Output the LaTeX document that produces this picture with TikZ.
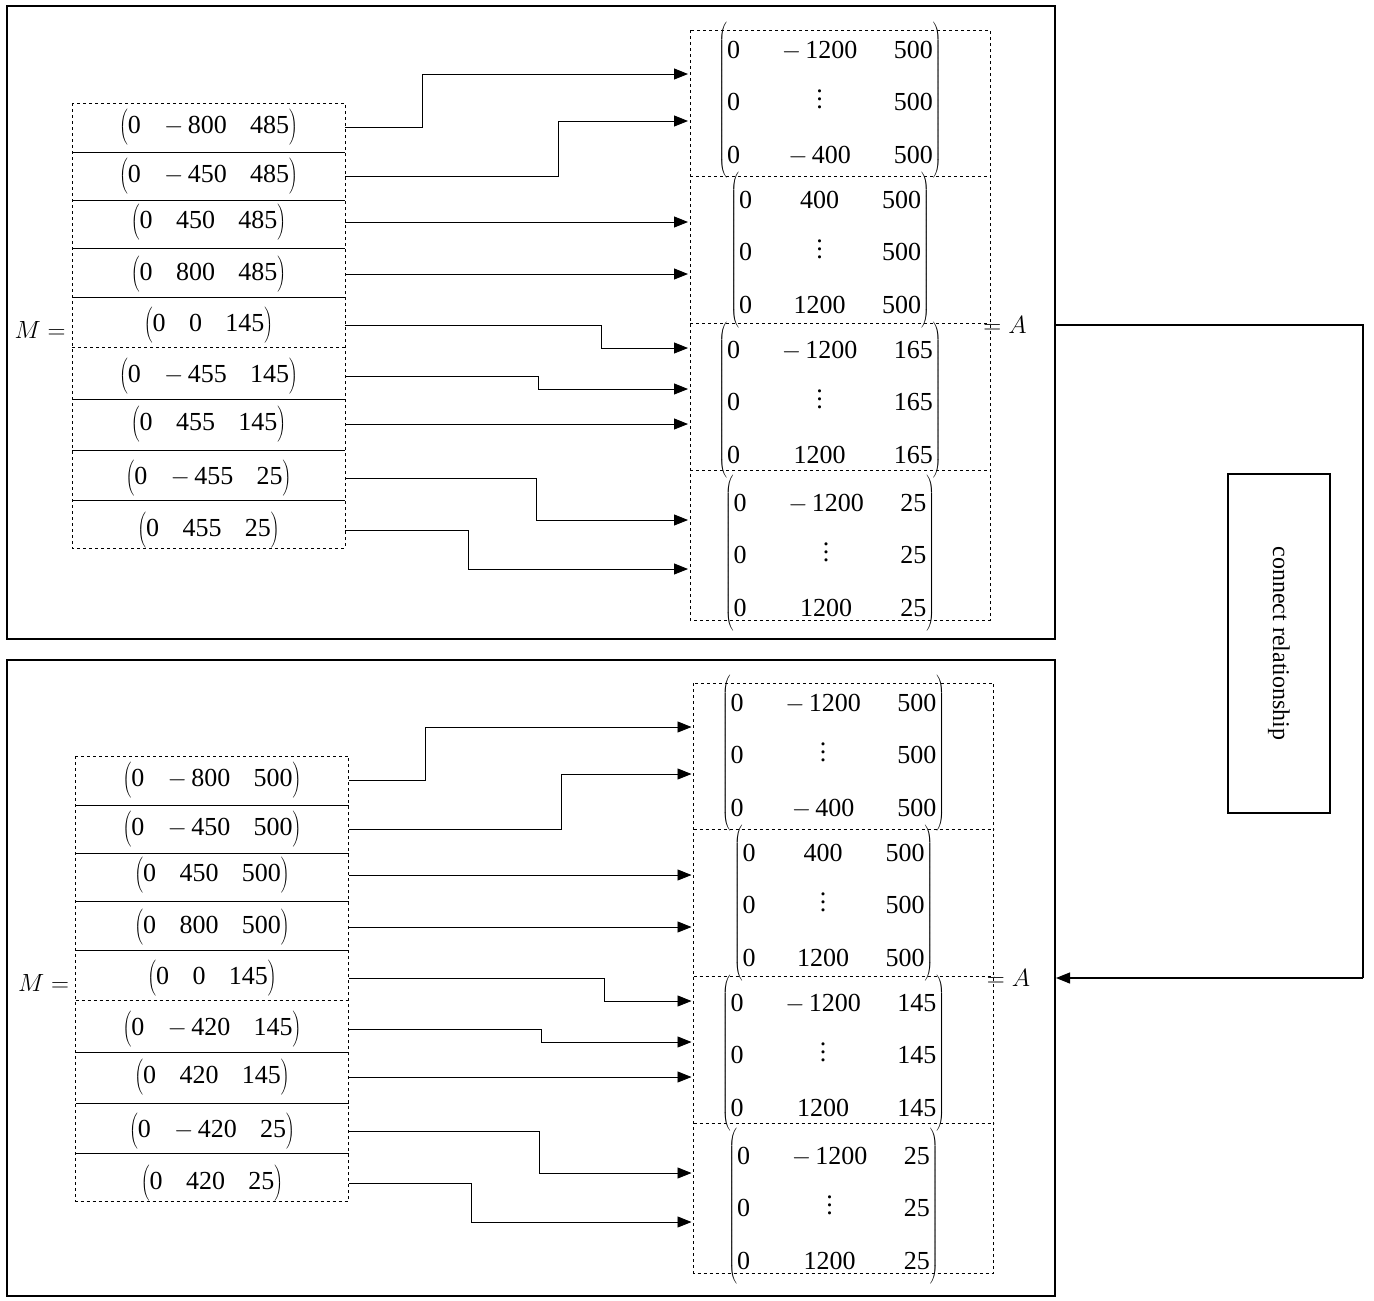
\documentclass[tikz,border=0pt]{standalone}
\usepackage{fontspec}
\setmainfont{Liberation Serif}
\usetikzlibrary{arrows.meta}
\newcommand\vd{\vbox{\baselineskip8pt\lineskiplimit0pt\hbox{.}\hbox{.}\hbox{.}}}
\newcommand\mymat[3]{$\left(\vrule height 70pt depth 70pt width 0pt\renewcommand\arraystretch{1.75}\begin{tabular}{@{}l@{\hspace{1.6em}}c@{\hspace{1.4em}}r@{}}0&#1&#3\\0&\raisebox{2pt}{\vd}&#3\\0&#2&#3\end{tabular}\right)$}
\newcommand\rv[2]{$\left(\vrule height 24pt depth 12pt width 0pt\mbox{0\hspace{0.9em}#1\hspace{0.9em}#2}\right)$}
\newcommand\mn{$-$\,}
\tikzset{
 txt/.style={font=\fontsize{26}{30}\selectfont,inner sep=0pt},
 row/.style={txt,minimum width=273pt,minimum height=48pt},
 arr/.style={-{Triangle[length=14pt,width=11pt]},line width=0.9pt},
 dbox/.style={dashed,line width=0.8pt},
}
\newcommand\panel[1]{%
 \draw[dbox] (72,103) rectangle (345,548);
 \foreach \y in {152,200,248,297,399,450,500}{\draw[line width=0.8pt] (72,\y)--(345,\y);}
 \draw[dbox] (72,347)--(345,347);
 \node[row] (#1r1) at (208.5,127) {\rv{\mn800}{\Pa}};
 \node[row] (#1r2) at (208.5,176) {\rv{\mn450}{\Pa}};
 \node[row] (#1r3) at (208.5,222) {\rv{450}{\Pa}};
 \node[row] (#1r4) at (208.5,274) {\rv{800}{\Pa}};
 \node[row] (#1r5) at (208.5,325) {\rv{0}{145}};
 \node[row] (#1r6) at (208.5,376) {\rv{\mn\Pb}{145}};
 \node[row] (#1r7) at (208.5,424) {\rv{\Pb}{145}};
 \node[row] (#1r8) at (208.5,478) {\rv{\mn\Pb}{25}};
 \node[row] (#1r9) at (208.5,530) {\rv{\Pb}{25}};
 \node[txt] (#1M) at (40,330) {$M=$};
 \draw[dbox] (690,30) rectangle (990,620);
 \foreach \y in {176,323,470}{\draw[dbox] (690,\y)--(990,\y);}
 \node[txt] (#1m1) at (830,100) {\mymat{\mn1200}{\mn400}{\Pc}};
 \node[txt] (#1m2) at (830,250) {\mymat{400}{1200}{\Pc}};
 \node[txt] (#1m3) at (830,400) {\mymat{\mn1200}{1200}{\Pd}};
 \node[txt] (#1m4) at (830,553) {\mymat{\mn1200}{1200}{25}};
 \node[txt] (#1A) at (1005,325) {$=A$};
 \coordinate (#1t1) at (688,74); \coordinate (#1t2) at (688,121);
 \coordinate (#1t3) at (688,222); \coordinate (#1t4) at (688,274);
 \coordinate (#1t5) at (688,348); \coordinate (#1t6) at (688,389);
 \coordinate (#1t7) at (688,424); \coordinate (#1t8) at (688,520);
 \coordinate (#1t9) at (688,569);
 \draw[arr] (#1r1.east) -- ++(77,0) |- (#1t1);
 \draw[arr] (#1r2.east) -- ++(213,0) |- (#1t2);
 \draw[arr] (#1r3.east) -- (#1t3);
 \draw[arr] (#1r4.east) -- (#1t4);
 \draw[arr] (#1r5.east) -- ++(256,0) |- (#1t5);
 \draw[arr] (#1r6.east) -- ++(193,0) |- (#1t6);
 \draw[arr] (#1r7.east) -- (#1t7);
 \draw[arr] (#1r8.east) -- ++(191,0) |- (#1t8);
 \draw[arr] (#1r9.east) -- ++(123,0) |- (#1t9);
}
\begin{document}
\begin{tikzpicture}[x=1pt,y=-1pt]
\useasboundingbox (0,0) rectangle (1374,1301);
\draw[line width=1.2pt] (7,6) rectangle (1055,639);
\draw[line width=1.2pt] (7,660) rectangle (1055,1296);
\def\Pa{485}\def\Pb{455}\def\Pc{500}\def\Pd{165}
\panel{a}
\begin{scope}[shift={(3.5,653)}]
\def\Pa{500}\def\Pb{420}\def\Pc{500}\def\Pd{145}
\panel{b}
\end{scope}
\node[draw,line width=1.2pt,minimum width=102pt,minimum height=339pt,inner sep=0pt] (cr) at (1279,643.5) {};
\node[font=\fontsize{24}{28}\selectfont,rotate=-90] at (cr.center) {connect relationship};
\coordinate (c1) at (1363,325);
\coordinate (c2) at (1363,978);
\draw[line width=1.2pt] (1055,325) -- (c1) -- (c2);
\draw[arr,line width=1.2pt] (c2) -- (1056,978);
\end{tikzpicture}
\end{document}
